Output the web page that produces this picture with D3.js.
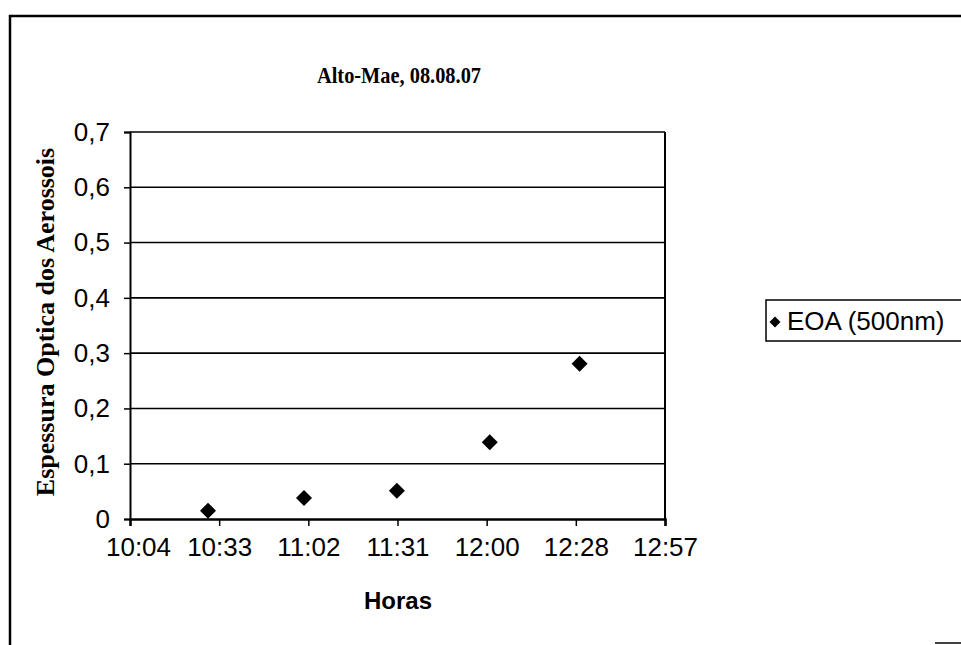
<!DOCTYPE html>
<html>
<head>
<meta charset="utf-8">
<script src="https://cdn.jsdelivr.net/npm/d3@7"></script>
<style>
  body { margin: 0; background: #fff; }
  svg { display: block; }
</style>
</head>
<body>
<svg id="chart"></svg>
<script>
// data: times are fractions of a day (Excel style)
const times = ["10:30", "11:01", "11:31", "12:01", "12:30"]
const eoa = [0.015, 0.038, 0.051, 0.139, 0.281]
const xTickValues = [0.42, 0.44, 0.46, 0.48, 0.50, 0.52, 0.54]
const xTickLabels = ["10:04", "10:33", "11:02", "11:31", "12:00", "12:28", "12:57"]
const yTickValues = [0, 0.1, 0.2, 0.3, 0.4, 0.5, 0.6, 0.7]
const yTickLabels = ["0", "0,1", "0,2", "0,3", "0,4", "0,5", "0,6", "0,7"]

const width = 961, height = 645
const plot = { left: 130, right: 665, top: 132, bottom: 519 }

const svg = d3.select("#chart")
    .attr("width", width)
    .attr("height", height)

// chart frame (only top and left survive the crop)
svg.append("path")
    .attr("d", "M10,646 L10,16 L961,16")
    .attr("fill", "none")
    .attr("stroke", "#000")
    .attr("stroke-width", 2.5)
svg.append("line")
    .attr("x1", 935).attr("x2", 961)
    .attr("y1", 643).attr("y2", 643)
    .attr("stroke", "#000")
    .attr("stroke-width", 1.5)

const toDay = (s) => {
    const [h, m] = s.split(":").map(Number)
    return (h * 60 + m) / 1440
}

const data = times.map((t, i) => ({ t: toDay(t), v: eoa[i] }))

var x = d3.scaleLinear()
    .domain([xTickValues[0], xTickValues[xTickValues.length - 1]])
    .range([plot.left, plot.right])

var y = d3.scaleLinear()
    .domain([0, 0.7])
    .range([plot.bottom, plot.top])

// gridlines
svg.append("g")
    .selectAll("line")
    .data(yTickValues.slice(1))
    .enter()
    .append("line")
    .attr("x1", plot.left)
    .attr("x2", plot.right)
    .attr("y1", (d) => y(d))
    .attr("y2", (d) => y(d))
    .attr("stroke", "#000")
    .attr("stroke-width", 1.6)

// right border of the plot area
svg.append("line")
    .attr("x1", plot.right).attr("x2", plot.right)
    .attr("y1", plot.top).attr("y2", plot.bottom)
    .attr("stroke", "#000")
    .attr("stroke-width", 2)

// y axis
var yAxis = svg.append("g")
    .attr("transform", "translate(" + plot.left + ",0)")
    .call(d3.axisLeft(y)
        .tickValues(yTickValues)
        .tickSize(6)
        .tickPadding(14)
        .tickFormat((d, i) => yTickLabels[i]))
yAxis.select(".domain").attr("stroke-width", 2)
yAxis.selectAll(".tick line").attr("stroke-width", 1.5)
yAxis.selectAll("text")
    .style("font-family", "Arial, 'Liberation Sans', sans-serif")
    .style("font-size", "26px")
    .attr("fill", "#000")

// x axis
var xAxis = svg.append("g")
    .attr("transform", "translate(0," + plot.bottom + ")")
    .call(d3.axisBottom(x)
        .tickValues(xTickValues)
        .tickSize(7)
        .tickPadding(12)
        .tickFormat((d, i) => xTickLabels[i]))
xAxis.select(".domain").attr("stroke-width", 2.5)
xAxis.selectAll(".tick line").attr("stroke-width", 1.5)
xAxis.selectAll("text")
    .style("font-family", "Arial, 'Liberation Sans', sans-serif")
    .style("font-size", "26px")
    .attr("fill", "#000")
// Excel nudged the first label clear of the "0"
xAxis.select(".tick text").attr("dx", 8)

// diamond markers
const diamond = (cx, cy, r) =>
    "M" + cx + "," + (cy - r) + "L" + (cx + r) + "," + cy +
    "L" + cx + "," + (cy + r) + "L" + (cx - r) + "," + cy + "Z"

svg.append("g")
    .selectAll("path")
    .data(data)
    .enter()
    .append("path")
    .attr("d", (d) => diamond(x(d.t), y(d.v), 8))
    .attr("fill", "#000")

// title
svg.append("text")
    .attr("x", 399)
    .attr("y", 83)
    .attr("text-anchor", "middle")
    .attr("textLength", 164)
    .attr("lengthAdjust", "spacingAndGlyphs")
    .style("font-family", "'Times New Roman', 'Liberation Serif', serif")
    .style("font-weight", "bold")
    .style("font-size", "23px")
    .text("Alto-Mae, 08.08.07")

// axis titles
svg.append("text")
    .attr("x", 398)
    .attr("y", 609)
    .attr("text-anchor", "middle")
    .style("font-family", "Arial, 'Liberation Sans', sans-serif")
    .style("font-weight", "bold")
    .style("font-size", "24px")
    .text("Horas")

svg.append("text")
    .attr("transform", "translate(54,322) rotate(-90)")
    .attr("text-anchor", "middle")
    .style("font-family", "'Times New Roman', 'Liberation Serif', serif")
    .style("font-weight", "bold")
    .style("font-size", "26px")
    .text("Espessura Optica dos Aerossois")

// legend
var legend = svg.append("g")
    .attr("transform", "translate(766,300)")
legend.append("rect")
    .attr("width", 210)
    .attr("height", 41)
    .attr("fill", "#fff")
    .attr("stroke", "#000")
    .attr("stroke-width", 1.5)
legend.append("path")
    .attr("d", diamond(9, 22, 5.5))
    .attr("fill", "#000")
legend.append("text")
    .attr("x", 21)
    .attr("y", 30)
    .style("font-family", "Arial, 'Liberation Sans', sans-serif")
    .style("font-size", "26px")
    .text("EOA (500nm)")
</script>
</body>
</html>
